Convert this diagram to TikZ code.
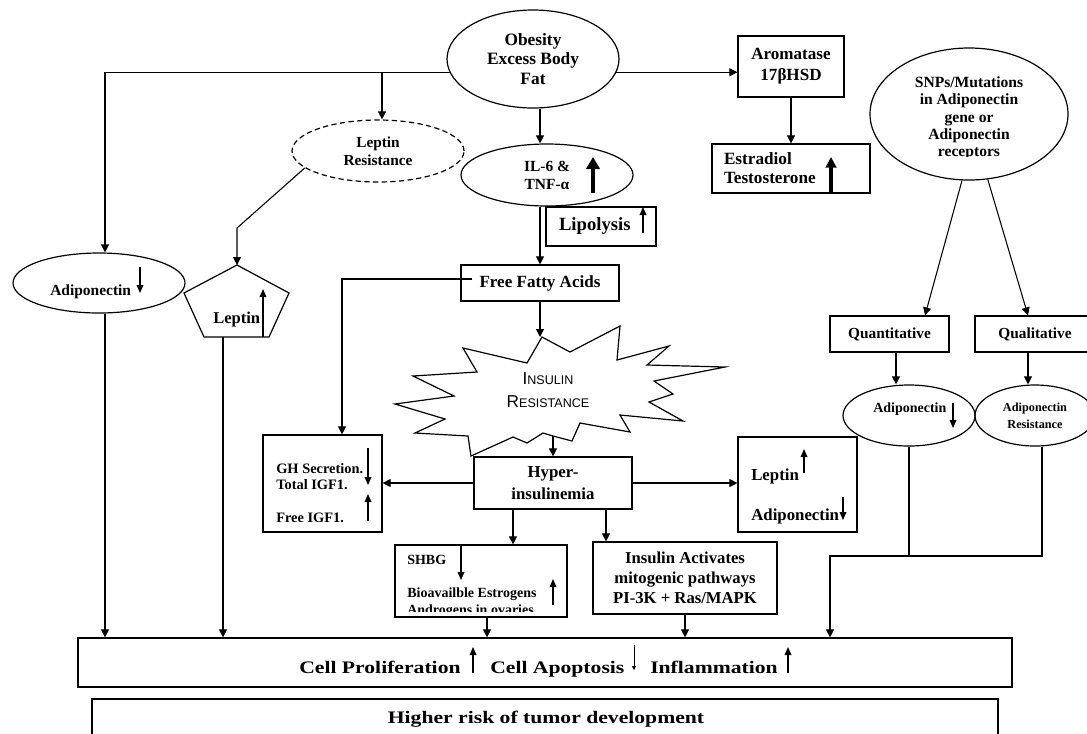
\documentclass[tikz,border=0pt]{standalone}
\usepackage{fontspec}
\setmainfont{Liberation Serif}
\newfontfamily\widefont[FakeStretch=1.23]{Liberation Serif}
\newfontfamily\irfont{Liberation Sans}
\usetikzlibrary{positioning, arrows.meta, calc, shapes.geometric}

\newcommand\fsz[2]{\fontsize{#1}{#2}\selectfont\bfseries}
\def\pxu{0.75pt}

\tikzset{
  box/.style={draw, line width=0.9pt, inner sep=0pt},
  oval/.style={draw, ellipse, line width=0.9pt, inner sep=0pt},
  lbl/.style={inner sep=0pt},
  link/.style={line width=0.8pt, -{Triangle[length=6pt,width=6pt]}},
  ind/.style={line width=0.9pt, -{Triangle[length=6pt,width=5pt]}},
  indsm/.style={line width=0.7pt, -{Triangle[length=3pt,width=3pt]}},
  bigind/.style={line width=3pt, -{Triangle[length=9pt,width=10pt]}}
}

\begin{document}
\begin{tikzpicture}[x=\pxu, y=-\pxu]
\useasboundingbox (0,0) rectangle (1087,733);

% Horni cast
\node[oval, minimum width=172*\pxu, minimum height=98*\pxu, align=center, font=\fsz{13}{14.3}] (ob) at (533,59) {Obesity\\Excess Body\\Fat};
\node[box, minimum width=106*\pxu, minimum height=61*\pxu, align=center, font=\fsz{12.8}{15.5}] (arom) at (791,66.5) {Aromatase\\17βHSD};
\node[box, minimum height=49*\pxu, text width=134*\pxu, inner xsep=12*\pxu, align=left, font=\fsz{12.9}{14.3}] (estr) at (791,168.5) {Estradiol\\Testosterone};
\draw[line width=2.5pt, -{Triangle[length=8pt,width=8pt]}] (831,193) -- (831,157);

\node[oval, dashed, dash pattern=on 4pt off 2.5pt, minimum width=172*\pxu, minimum height=62*\pxu, align=center, font=\fsz{11.5}{13.5}] (lres) at (378,151) {Leptin\\Resistance};
\node[oval, minimum width=172*\pxu, minimum height=62*\pxu, align=center, font=\fsz{11.6}{13.5}] (il6) at (547,175) {IL-6 \&\\TNF-α};
\draw[bigind] (593,193) -- (593,157);
\node[box, minimum height=39*\pxu, text width=84*\pxu, inner xsep=13*\pxu, align=left, font=\fsz{14}{16}] (lip) at (601,226.5) {Lipolysis};
\draw[ind] (643,233) -- (643,207);
\node[box, minimum width=158*\pxu, minimum height=36*\pxu, font=\fsz{12.8}{15}] (ffa) at (540,283) {Free Fatty Acids};

% Adiponectin a leptin vlevo
\node[oval, minimum width=172*\pxu, minimum height=60*\pxu] (adipo) at (99,283) {};
\node[lbl, anchor=base west, font=\fsz{11.6}{13}] (adipot) at (50,295) {Adiponectin};
\draw[ind] (140,267) -- (140,293);

\coordinate (leptop) at (237,265);
\coordinate (lepbot) at (223,337);
\coordinate (lepbend) at (237,228);
\draw[line width=0.9pt] (leptop) -- (289,293) -- (269,337) -- (204,337) -- (184,293) -- cycle;
\node[lbl, anchor=base west, font=\fsz{12.4}{14}] (lep) at (213,323) {Leptin};
\draw[ind] (263,337) -- (263,289);

% Inzulinova rezistence
\draw[line width=0.9pt] (542,337) -- (570,352) -- (620,326) -- (617,360) -- (669,346) -- (647,365)
  -- (725,367) -- (654,381) -- (673,394) -- (649,402) -- (683,421) -- (620,415) -- (630,432)
  -- (580,423) -- (572,441) -- (553,436) -- (543,433) -- (527,443) -- (513,437) -- (471,456)
  -- (468,436) -- (415,433) -- (445,419) -- (395,404) -- (454,396) -- (413,376) -- (477,372)
  -- (463,348) -- (527,363) -- cycle;
\node[lbl, anchor=base, font=\irfont] (ir1) at (548,384) {\fontsize{12.9}{14}\selectfont I\fontsize{9.4}{11}\selectfont NSULIN};
\node[lbl, anchor=base, font=\irfont] (ir2) at (548,407) {\fontsize{12.9}{14}\selectfont R\fontsize{9.4}{11}\selectfont ESISTANCE};
\coordinate (irtop) at (540,337);
\coordinate (irbot) at (553,436);

% Hyperinzulinemie a okoli
\node[box, minimum width=158*\pxu, minimum height=52*\pxu, align=center, font=\fsz{12.6}{16.5}] (hyp) at (553,483) {Hyper-\\insulinemia};

\node[box, minimum width=119*\pxu, minimum height=97*\pxu] (gh) at (322.5,483.5) {};
\node[lbl, anchor=base west, font=\fsz{10.8}{12}] (gh1) at (276,473) {GH Secretion.};
\node[lbl, anchor=base west, font=\fsz{10.8}{12}] (gh2) at (276,489) {Total IGF1.};
\node[lbl, anchor=base west, font=\fsz{10.8}{12}] (gh3) at (276,522) {Free IGF1.};
\draw[ind] (368,448) -- (368,485);
\draw[ind] (368,521) -- (368,494);

\node[box, minimum width=119*\pxu, minimum height=95*\pxu] (la) at (797.5,484.5) {};
\node[lbl, anchor=base west, font=\fsz{12.6}{14}] (la1) at (751,480) {Leptin};
\node[lbl, anchor=base west, font=\fsz{12.6}{14}] (la2) at (751,520) {Adiponectin};
\draw[ind] (804,473) -- (804,449);
\draw[ind] (843,497) -- (843,520);

\node[box, minimum width=172*\pxu, minimum height=72*\pxu] (shbg) at (481,581) {};
\node[lbl, anchor=base west, font=\fsz{10.5}{12}] (sh1) at (407,564) {SHBG};
\node[lbl, anchor=base west, font=\fsz{10.5}{12}] (sh2) at (407,597) {Bioavailble Estrogens};
\begin{scope}
  \clip (400,600) rectangle (560,611.5);
  \node[lbl, anchor=base west, font=\fsz{10.5}{12}] (sh3) at (407,614) {Androgens in ovaries};
\end{scope}
\draw[ind] (461,545) -- (461,580);
\draw[ind] (553,605) -- (553,579);

\node[box, minimum width=184*\pxu, minimum height=72*\pxu, align=center, font=\fsz{12.5}{15}] (ins) at (685,578) {Insulin Activates\\mitogenic pathways\\PI-3K + Ras/MAPK};

% Adiponektin vpravo
\node[oval, minimum width=198*\pxu, minimum height=132*\pxu] (snps) at (969,114) {};
\begin{scope}
  \clip (870,60) rectangle (1068,156.5);
  \node[lbl, anchor=base, font=\fsz{11.7}{13}] (sn1) at (969,87) {SNPs/Mutations};
  \node[lbl, anchor=base, font=\fsz{11.7}{13}] (sn2) at (969,104) {in Adiponectin};
  \node[lbl, anchor=base, font=\fsz{11.7}{13}] (sn3) at (969,122) {gene or};
  \node[lbl, anchor=base, font=\fsz{11.7}{13}] (sn4) at (969,139) {Adiponectin};
  \node[lbl, anchor=base, font=\fsz{11.7}{13}] (sn5) at (969,156) {receptors};
\end{scope}
\node[box, minimum width=119*\pxu, minimum height=36*\pxu, font=\fsz{11.5}{13}] (quant) at (889.5,334) {Quantitative};
\node[box, minimum width=120*\pxu, minimum height=36*\pxu, font=\fsz{11.5}{13}] (qual) at (1035,334) {Qualitative};
\node[oval, minimum width=132*\pxu, minimum height=61*\pxu] (qadip) at (909,415.5) {};
\node[lbl, anchor=base west, font=\fsz{10.5}{12}] (qa) at (873,412) {Adiponectin};
\draw[ind] (953,403) -- (953,428);
\node[oval, minimum width=120*\pxu, minimum height=61*\pxu, align=center, font=\fsz{9.2}{13}] (qres) at (1035,415.5) {Adiponectin\\Resistance};

% Spodni boxy
\node[box, minimum width=934*\pxu, minimum height=49*\pxu] (cell) at (545,662.5) {};
\node[lbl, anchor=base west, font=\widefont\fsz{13.2}{15}] (c1) at (299,673) {Cell Proliferation};
\node[lbl, anchor=base west, font=\widefont\fsz{13.2}{15}] (c2) at (490,673) {Cell Apoptosis};
\node[lbl, anchor=base west, font=\widefont\fsz{13.2}{15}] (c3) at (650,673) {Inflammation};
\draw[ind] (473,673) -- (473,647);
\draw[indsm] (634,645) -- (634,670);
\draw[ind] (788,673) -- (788,647);

\node[box, minimum width=906*\pxu, minimum height=70*\pxu] (risk) at (545,734) {};
\node[lbl, anchor=base, font=\widefont\fsz{13.2}{15}] (rk) at (546,723) {Higher risk of tumor development};

% Spojnice
\coordinate (xa) at (105,0);
\coordinate (xl) at (382,0);
\coordinate (xm) at (540,0);
\coordinate (xg) at (342,0);
\coordinate (xs) at (513,0);
\coordinate (xi) at (606,0);
\coordinate (xb) at (487,0);
\coordinate (xq) at (896,0);
\coordinate (xr) at (1028,0);
\coordinate (xr2) at (1042,0);
\coordinate (xc) at (830,0);
\coordinate (jn) at (0,556);

\draw[link] (ob.189) -| (xa |- adipo.north);
\draw[link] (xl |- ob.189) -- (xl |- lres.north);
\draw[link] (ob.-9) -- (arom.west |- ob.-9);
\draw[link] (arom.south) -- (estr.north);
\draw[link] (xm |- ob.south) -- (xm |- il6.north);
\draw[link] (xm |- il6.south) -- (ffa.north);
\draw[link] ([shift={(12,-4)}]ffa.west) -| (xg |- gh.north);
\draw[link] (ffa.south) -- (irtop);
\draw[link] (irbot) -- (hyp.north);
\draw[link] (hyp.west) -- (gh.east |- hyp.west);
\draw[link] (hyp.east) -- (la.west |- hyp.east);
\draw[link] (xs |- hyp.south) -- (xs |- shbg.north);
\draw[link] (xi |- hyp.south) -- (xi |- ins.north);
\draw[link] (lres.193) -- (lepbend) -- (leptop);
\draw[link] (xa |- adipo.south) -- (xa |- cell.north);
\draw[link] (lepbot) -- (lepbot |- cell.north);
\draw[link] (xb |- shbg.south) -- (xb |- cell.north);
\draw[link] (ins.south) -- (ins.south |- cell.north);
\draw[link] (snps.264) -- ([xshift=35.5*\pxu]quant.north);
\draw[link] (snps.286) -- ([xshift=-7*\pxu]qual.north);
\draw[link] (xq |- quant.south) -- (xq |- qadip.north);
\draw[link] (xr |- qual.south) -- (xr |- qres.north);
\draw[line width=0.8pt] (qadip.south) -- (qadip.south |- jn);
\draw[link] (xr2 |- qres.south) -- (xr2 |- jn) -| (xc |- cell.north);

\end{tikzpicture}
\end{document}
